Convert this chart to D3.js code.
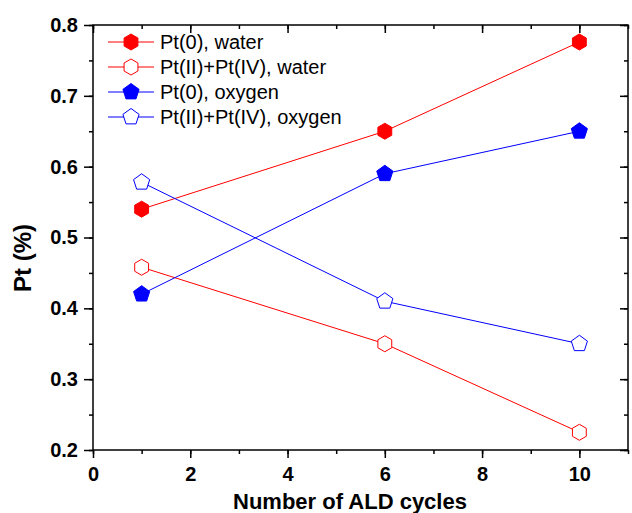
<!DOCTYPE html>
<html>
<head>
<meta charset="utf-8">
<script src="https://cdn.jsdelivr.net/npm/d3@7"></script>
<style>
  body { margin: 0; background: #fff; }
  text { font-family: Arial, "Liberation Sans", sans-serif; }
</style>
</head>
<body>
<div id="chart"></div>
<script>
// data
var cycles = [1, 6, 10];
var ptWater = [0.54, 0.65, 0.776];
var ptOxWater = [0.458, 0.35, 0.225];
var ptOxygen = [0.42, 0.59, 0.65];
var ptOxOxygen = [0.578, 0.41, 0.35];
var seriesNames = ["Pt(0), water", "Pt(II)+Pt(IV), water", "Pt(0), oxygen", "Pt(II)+Pt(IV), oxygen"];
var xTicks = [0, 2, 4, 6, 8, 10];
var yTicks = [0.2, 0.3, 0.4, 0.5, 0.6, 0.7, 0.8];

var series = [
  {name: seriesNames[0], values: ptWater, color: "#ff0000", sides: 6, filled: true},
  {name: seriesNames[1], values: ptOxWater, color: "#ff0000", sides: 6, filled: false},
  {name: seriesNames[2], values: ptOxygen, color: "#0000ff", sides: 5, filled: true},
  {name: seriesNames[3], values: ptOxOxygen, color: "#0000ff", sides: 5, filled: false}
];

function gen_chart() {
  var margin = {top: 25, right: 4, bottom: 63, left: 93},
      width = 632 - margin.left - margin.right,
      height = 513 - margin.top - margin.bottom;

  var x = d3.scaleLinear().domain([0, 11]).range([0, width]);
  var y = d3.scaleLinear().domain([0.2, 0.8]).range([height, 0]);

  var svg = d3.select("#chart").append("svg")
      .attr("width", 632)
      .attr("height", 513)
    .append("g")
      .attr("transform", "translate(" + margin.left + "," + margin.top + ")");

  // polygon marker, point up
  function polygon(n, r) {
    var pts = [];
    for (var i = 0; i < n; i++) {
      var a = -Math.PI / 2 + i * 2 * Math.PI / n;
      pts.push([r * Math.cos(a), r * Math.sin(a)]);
    }
    return "M" + pts.join("L") + "Z";
  }

  // minor / major ticks
  var xMinor = d3.range(0, 12, 1);
  var yMinor = d3.range(0.2, 0.801, 0.05);

  var axisStyle = function(g) {
    g.select(".domain").remove();
    g.selectAll("line").attr("stroke", "#000").attr("stroke-width", 1.5);
  };

  // bottom minor ticks
  svg.append("g")
      .attr("transform", "translate(0," + height + ")")
      .call(d3.axisBottom(x).tickValues(xMinor).tickSize(4).tickFormat(""))
      .call(axisStyle);
  // bottom major
  svg.append("g")
      .attr("transform", "translate(0," + height + ")")
      .call(d3.axisBottom(x).tickValues(xTicks).tickSize(8).tickPadding(9).tickFormat(d3.format("d")))
      .call(axisStyle)
      .selectAll("text")
      .style("font-size", "20px").style("font-weight", "bold").attr("fill", "#000");

  // top ticks inward
  svg.append("g")
      .call(d3.axisBottom(x).tickValues(xMinor).tickSize(4).tickFormat(""))
      .call(axisStyle);
  svg.append("g")
      .call(d3.axisBottom(x).tickValues(xTicks).tickSize(8).tickFormat(""))
      .call(axisStyle);

  // left minor
  svg.append("g")
      .call(d3.axisLeft(y).tickValues(yMinor).tickSize(4).tickFormat(""))
      .call(axisStyle);
  // left major
  svg.append("g")
      .call(d3.axisLeft(y).tickValues(yTicks).tickSize(9).tickPadding(6).tickFormat(d3.format(".1f")))
      .call(axisStyle)
      .selectAll("text")
      .style("font-size", "20px").style("font-weight", "bold").attr("fill", "#000");

  // right ticks inward
  svg.append("g")
      .attr("transform", "translate(" + width + ",0)")
      .call(d3.axisLeft(y).tickValues(yMinor).tickSize(4).tickFormat(""))
      .call(axisStyle);
  svg.append("g")
      .attr("transform", "translate(" + width + ",0)")
      .call(d3.axisLeft(y).tickValues(yTicks).tickSize(8).tickFormat(""))
      .call(axisStyle);

  // frame
  svg.append("rect")
      .attr("width", width).attr("height", height)
      .attr("fill", "none").attr("stroke", "#000").attr("stroke-width", 1.5);

  // lines
  var line = d3.line()
      .x(function(d, i) { return x(cycles[i]); })
      .y(function(d) { return y(d); });

  series.forEach(function(s) {
    svg.append("path")
        .datum(s.values)
        .attr("d", line)
        .attr("fill", "none")
        .attr("stroke", s.color)
        .attr("stroke-width", 1);

    svg.selectAll(null)
        .data(s.values)
      .enter().append("path")
        .attr("d", polygon(s.sides, s.sides == 6 ? 8 : 8.5))
        .attr("transform", function(d, i) { return "translate(" + x(cycles[i]) + "," + y(d) + ")"; })
        .attr("fill", s.filled ? s.color : "#fff")
        .attr("stroke", s.color)
        .attr("stroke-width", 1);
  });

  // legend
  var legend = svg.selectAll(".legend")
      .data(series)
    .enter().append("g")
      .attr("class", "legend")
      .attr("transform", function(d, i) { return "translate(15," + (17 + i * 25) + ")"; });

  legend.append("line")
      .attr("x1", 0).attr("x2", 46)
      .attr("stroke", function(d) { return d.color; })
      .attr("stroke-width", 1);
  legend.append("path")
      .attr("d", function(d) { return polygon(d.sides, d.sides == 6 ? 8 : 8.5); })
      .attr("transform", "translate(23,0)")
      .attr("fill", function(d) { return d.filled ? d.color : "#fff"; })
      .attr("stroke", function(d) { return d.color; });
  legend.append("text")
      .attr("x", 52)
      .attr("dy", "0.36em")
      .style("font-size", "20px")
      .text(function(d) { return d.name; });

  // axis titles
  svg.append("text")
      .attr("x", 350 - margin.left)
      .attr("y", height + 59)
      .style("text-anchor", "middle")
      .style("font-size", "22px")
      .style("font-weight", "bold")
      .text("Number of ALD cycles");

  svg.append("text")
      .attr("transform", "rotate(-90)")
      .attr("x", -(258 - margin.top))
      .attr("y", -62)
      .style("text-anchor", "middle")
      .style("font-size", "24px")
      .style("font-weight", "bold")
      .text("Pt (%)");
}
gen_chart();
</script>
</body>
</html>
